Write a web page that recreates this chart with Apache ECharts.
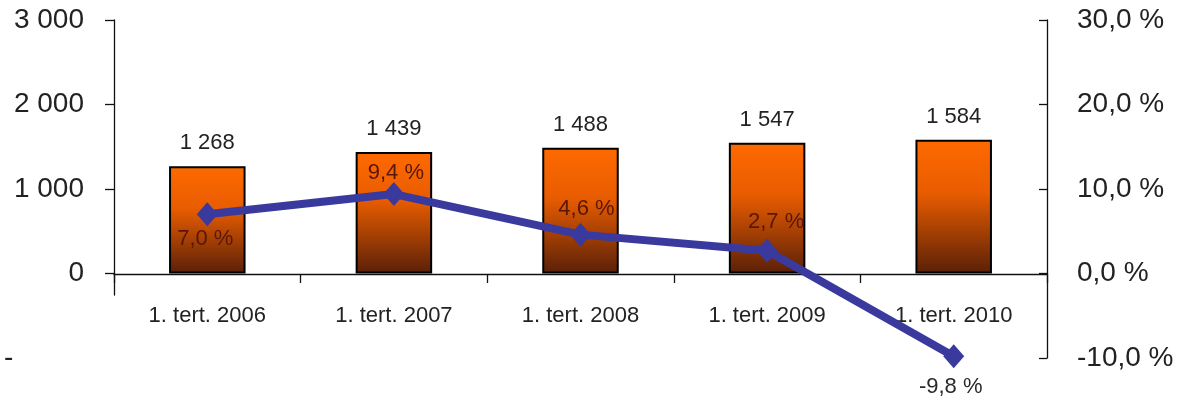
<!DOCTYPE html>
<html>
<head>
<meta charset="utf-8">
<style>
  html, body { margin: 0; padding: 0; background: #fff; }
  #chart { width: 1182px; height: 400px; }
</style>
<script src="https://cdn.jsdelivr.net/npm/echarts@6/dist/echarts.min.js"></script>
</head>
<body>
<div id="chart"></div>
<script>
// ---- data ----
var categories = ['1. tert. 2006', '1. tert. 2007', '1. tert. 2008', '1. tert. 2009', '1. tert. 2010'];
var amounts = [1268, 1439, 1488, 1547, 1584];
var growthPct = [7.0, 9.4, 4.6, 2.7, -9.8];
var leftTicks = [0, 1000, 2000, 3000];

// ---- helpers ----
function fmtThousands(v) {
  return String(Math.round(v)).replace(/\B(?=(\d{3})+(?!\d))/g, '\u00a0');
}
function fmtPct(v) {
  return v.toFixed(1).replace('.', ',') + ' %';
}

var FONT = '"Liberation Sans", Arial, sans-serif';
var TXT = '#222';
var AX = { color: '#111', width: 1.3 };

// label placement per point of the growth line
var pctLabelPos = ['bottom', 'top', 'top', 'top', 'bottom'];
var pctLabelDist = [2, -2, 3, 6, 8];
var pctLabelOff = [[-2, 0], [2, 0], [6, 0], [9, 0], [-3, 0]];
var pctLabelColor = ['#5a1608', '#5a1608', '#5a1608', '#5a1608', '#2a2a2a'];

var lineData = growthPct.map(function (v, i) {
  return {
    value: v,
    label: {
      position: pctLabelPos[i],
      distance: pctLabelDist[i],
      offset: pctLabelOff[i],
      color: pctLabelColor[i]
    }
  };
});

var chart = echarts.init(document.getElementById('chart'), null, { renderer: 'canvas' });

chart.setOption({
  animation: false,
  backgroundColor: '#fff',
  textStyle: { fontFamily: FONT },
  grid: [
    // main plot: -1000..3000 / -10..30 %
    { left: 114, right: 135, top: 20, bottom: 42, containLabel: false, outerBoundsMode: 'none' },
    // left value-axis line, which stops just below zero
    { left: 114, right: 135, top: 20, bottom: 105, containLabel: false, outerBoundsMode: 'none' },
    // category axis sitting on the zero line
    { left: 114, right: 135, top: 20, bottom: 126, containLabel: false, outerBoundsMode: 'none' }
  ],
  xAxis: [
    {
      type: 'category',
      gridIndex: 0,
      data: categories,
      axisLine: { show: false },
      axisTick: { show: false },
      axisLabel: { show: false },
      splitLine: { show: false }
    },
    { type: 'value', gridIndex: 1, show: false, min: 0, max: 1 },
    {
      type: 'category',
      gridIndex: 2,
      data: categories,
      position: 'bottom',
      axisLine: { show: true, onZero: false, lineStyle: AX },
      axisTick: { show: true, length: 9, lineStyle: AX },
      axisLabel: { color: TXT, fontSize: 22, fontFamily: FONT, margin: 31 },
      splitLine: { show: false }
    }
  ],
  yAxis: [
    {
      type: 'value',
      gridIndex: 0,
      position: 'left',
      min: -1000,
      max: 3000,
      interval: 1000,
      axisLine: { show: false },
      axisTick: { show: true, inside: false, length: 9, customValues: leftTicks, lineStyle: AX },
      splitLine: { show: false },
      axisLabel: {
        color: TXT, fontSize: 28, fontFamily: FONT, margin: 30,
        formatter: function (v) { return v < 0 ? '{d|-}' : fmtThousands(v); },
        rich: { d: { width: 80, align: 'left', fontSize: 28, color: TXT, fontFamily: FONT } }
      }
    },
    {
      type: 'value',
      gridIndex: 0,
      position: 'right',
      min: -10,
      max: 30,
      interval: 10,
      axisLine: { show: true, lineStyle: AX },
      axisTick: { show: true, inside: true, length: 8, lineStyle: AX },
      splitLine: { show: false },
      axisLabel: {
        color: TXT, fontSize: 28, fontFamily: FONT, margin: 30,
        formatter: function (v) { return fmtPct(v); }
      }
    },
    {
      type: 'value',
      gridIndex: 1,
      position: 'left',
      min: -250,
      max: 3000,
      axisLine: { show: true, lineStyle: AX },
      axisTick: { show: false },
      axisLabel: { show: false },
      splitLine: { show: false }
    },
    { type: 'value', gridIndex: 2, show: false, min: 0, max: 1 }
  ],
  series: [
    {
      name: 'amount',
      type: 'bar',
      xAxisIndex: 0,
      yAxisIndex: 0,
      data: amounts,
      barWidth: '41%',
      z: 2,
      itemStyle: {
        borderColor: '#000',
        borderWidth: 2,
        color: new echarts.graphic.LinearGradient(0, 0, 0, 1, [
          { offset: 0, color: '#ff6a00' },
          { offset: 0.4, color: '#e85c00' },
          { offset: 1, color: '#5a2008' }
        ])
      },
      label: {
        show: true,
        position: 'top',
        distance: 12,
        color: TXT,
        fontSize: 22,
        fontFamily: FONT,
        formatter: function (p) { return fmtThousands(p.value); }
      }
    },
    {
      name: 'growth',
      type: 'line',
      xAxisIndex: 0,
      yAxisIndex: 1,
      data: lineData,
      z: 5,
      symbol: 'diamond',
      symbolSize: [21, 24],
      lineStyle: { color: '#3a3a9e', width: 8 },
      itemStyle: { color: '#3a3a9e' },
      label: {
        show: true,
        fontSize: 22,
        fontFamily: FONT,
        formatter: function (p) { return fmtPct(p.value); }
      }
    }
  ]
});
</script>
</body>
</html>
